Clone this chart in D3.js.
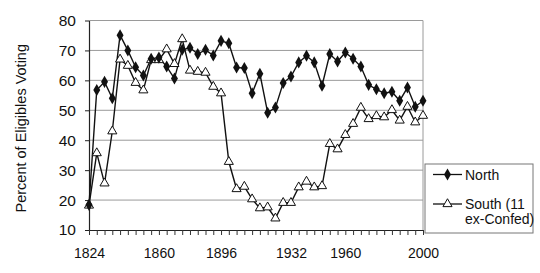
<!DOCTYPE html>
<html>
<head>
<meta charset="utf-8">
<script src="https://cdn.jsdelivr.net/npm/d3@7"></script>
<style>
  body { margin: 0; background: #fff; }
  svg { display: block; font-family: "Liberation Sans", Arial, sans-serif; }
</style>
</head>
<body>
<svg width="540" height="273"></svg>
<script>
// presidential elections, 1864 left out (no Southern vote)
const years = [1824, 1828, 1832, 1836, 1840, 1844, 1848, 1852, 1856, 1860,
  1868, 1872, 1876, 1880, 1884, 1888, 1892, 1896, 1900, 1904, 1908, 1912,
  1916, 1920, 1924, 1928, 1932, 1936, 1940, 1944, 1948, 1952, 1956, 1960,
  1964, 1968, 1972, 1976, 1980, 1984, 1988, 1992, 1996, 2000];

const north = [18.4, 56.8, 59.5, 54.0, 75.1, 70.0, 64.4, 61.6, 67.2, 67.6,
  64.6, 60.6, 70.2, 70.9, 68.8, 70.2, 68.3, 73.2, 72.4, 64.3, 64.1, 55.7,
  62.2, 49.2, 50.9, 59.1, 61.3, 66.0, 68.2, 66.0, 58.2, 68.8, 66.3, 69.3,
  67.2, 64.6, 58.5, 57.0, 55.7, 56.2, 53.2, 57.6, 51.2, 53.2];

const south = [18.2, 35.7, 25.6, 43.0, 67.0, 64.9, 59.2, 56.7, 66.8, 66.8,
  70.4, 65.5, 73.8, 63.3, 62.9, 62.6, 57.9, 55.7, 32.8, 23.7, 24.5, 20.3,
  17.3, 17.6, 13.9, 19.1, 19.1, 24.3, 26.2, 24.3, 24.7, 38.8, 37.0, 41.8,
  45.5, 50.9, 47.1, 48.1, 47.7, 50.1, 46.6, 51.2, 46.0, 48.2];

const yearLabels = [1824, 1860, 1896, 1932, 1960, 2000];
const yTicks = [10, 20, 30, 40, 50, 60, 70, 80];

const svg = d3.select("svg");
const margin = { top: 20.5, right: 117, bottom: 43, left: 89 };
const innerW = 540 - margin.left - margin.right;
const innerH = 273 - margin.top - margin.bottom;

const g = svg.append("g")
  .attr("transform", `translate(${margin.left},${margin.top})`);

const x = d3.scalePoint().domain(years).range([0, innerW]);
const y = d3.scaleLinear().domain([10, 80]).range([innerH, 0]);

// gridlines
g.append("g")
  .selectAll("line")
  .data(yTicks.slice(1))
  .join("line")
  .attr("x1", 0)
  .attr("x2", innerW)
  .attr("y1", (d) => y(d))
  .attr("y2", (d) => y(d))
  .attr("stroke", "#9a9a9a")
  .attr("stroke-width", 1);

// right border of plot area
g.append("line")
  .attr("x1", innerW).attr("x2", innerW)
  .attr("y1", 0).attr("y2", innerH)
  .attr("stroke", "#9a9a9a");

// y axis
const yAxis = g.append("g")
  .call(d3.axisLeft(y).tickValues(yTicks).tickSize(4).tickPadding(9).tickSizeOuter(0));
yAxis.select(".domain").attr("stroke", "#222").attr("stroke-width", 1.2);
yAxis.selectAll(".tick line").attr("stroke", "#222");
yAxis.selectAll("text")
  .attr("font-size", 15.5)
  .attr("fill", "#111");

// x axis: minor tick at every election, labels on a few
const xAxis = g.append("g")
  .attr("transform", `translate(0,${innerH})`)
  .call(d3.axisBottom(x).tickSize(5).tickSizeOuter(0)
    .tickFormat((d) => yearLabels.includes(d) ? d : ""));
xAxis.select(".domain").attr("stroke", "#222").attr("stroke-width", 1.2);
xAxis.selectAll(".tick line").attr("stroke", "#333");
xAxis.selectAll("text")
  .attr("font-size", 14)
  .attr("fill", "#111")
  .attr("dy", "1.45em");

// y title
svg.append("text")
  .attr("transform", `translate(26,${margin.top + innerH / 2 + 3}) rotate(-90)`)
  .attr("text-anchor", "middle")
  .attr("font-size", 14.5)
  .attr("fill", "#111")
  .text("Percent of Eligibles Voting");

const line = d3.line()
  .x((d, i) => x(years[i]))
  .y((d) => y(d));

const diamond = d3.symbol().type(d3.symbolDiamond).size(42);
const triangle = d3.symbol().type(d3.symbolTriangle).size(36);

g.append("path")
  .datum(south)
  .attr("d", line)
  .attr("fill", "none")
  .attr("stroke", "#111")
  .attr("stroke-width", 1.4);

g.append("path")
  .datum(north)
  .attr("d", line)
  .attr("fill", "none")
  .attr("stroke", "#111")
  .attr("stroke-width", 1.4);

g.append("g")
  .selectAll("path")
  .data(south)
  .join("path")
  .attr("transform", (d, i) => `translate(${x(years[i])},${y(d)})`)
  .attr("d", triangle)
  .attr("fill", "#fff")
  .attr("stroke", "#111")
  .attr("stroke-width", 1);

g.append("g")
  .selectAll("path")
  .data(north)
  .join("path")
  .attr("transform", (d, i) => `translate(${x(years[i])},${y(d)})`)
  .attr("d", diamond)
  .attr("fill", "#111");

// legend
const legend = svg.append("g").attr("transform", "translate(425,164)");
legend.append("rect")
  .attr("width", 108)
  .attr("height", 69)
  .attr("fill", "#fff")
  .attr("stroke", "#777");

const entries = [
  { label: ["North"], sym: "diamond", cy: 10.5 },
  { label: ["South (11", "ex-Confed)"], sym: "triangle", cy: 40 }
];
entries.forEach((e) => {
  const row = legend.append("g").attr("transform", `translate(0,${e.cy})`);
  row.append("line")
    .attr("x1", 8).attr("x2", 37)
    .attr("stroke", "#111").attr("stroke-width", 1.3);
  if (e.sym === "diamond") {
    row.append("path").attr("transform", "translate(22.5,0)")
      .attr("d", diamond).attr("fill", "#111");
  } else {
    row.append("path").attr("transform", "translate(22.5,0)")
      .attr("d", triangle).attr("fill", "#fff").attr("stroke", "#111");
  }
  row.append("text")
    .attr("x", 40)
    .attr("font-size", 14)
    .attr("fill", "#111")
    .selectAll("tspan")
    .data(e.label)
    .join("tspan")
    .attr("x", 40)
    .attr("dy", (d, i) => i === 0 ? "0.36em" : "1.1em")
    .text((d) => d);
});
</script>
</body>
</html>
